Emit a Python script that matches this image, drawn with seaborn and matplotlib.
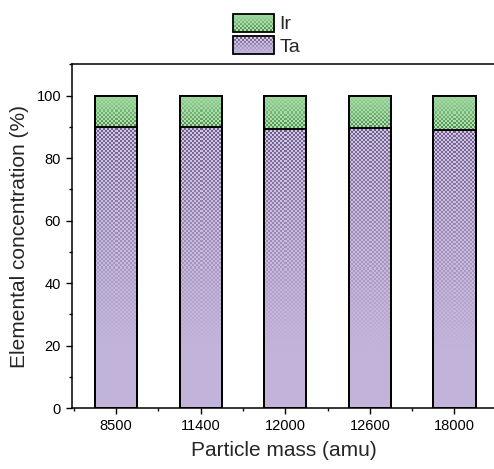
import numpy as np
import pandas as pd
import matplotlib
matplotlib.use("Agg")
import matplotlib.pyplot as plt
from matplotlib.patches import Patch, Rectangle
from matplotlib.ticker import MultipleLocator, FixedLocator
import seaborn as sns

# Composition of each particle size class (%)
masses = ["8500", "11400", "12000", "12600", "18000"]
ta_pct = [90.0, 90.0, 89.4, 89.6, 89.1]
ir_pct = [10.0, 10.0, 10.6, 10.4, 10.9]

TA_COLOR = "#c2b3da"
IR_COLOR = "#9dd89d"
TA_DARK = np.array([0.30, 0.22, 0.42])
IR_DARK = np.array([0.16, 0.42, 0.16])

sns.set_theme(style="ticks")
plt.rcParams["font.family"] = ["Liberation Sans", "DejaVu Sans"]

df = pd.DataFrame({"mass": masses, "Ta": ta_pct, "Ir": ir_pct})
df["total"] = df["Ta"] + df["Ir"]

fig = plt.figure(figsize=(4.94, 4.69), dpi=100)
ax = fig.add_axes([0.146, 0.130, 0.856, 0.733])

EDGE_LW = 1.3
sns.barplot(data=df, x="mass", y="total", color=IR_COLOR, saturation=1,
            width=0.5, errorbar=None, edgecolor="black", linewidth=EDGE_LW, ax=ax)
sns.barplot(data=df, x="mass", y="Ta", color=TA_COLOR, saturation=1,
            width=0.5, errorbar=None, edgecolor="black", linewidth=EDGE_LW, ax=ax)

ax.set_ylim(0, 110)
ax.set_xlim(-0.52, 4.48)
ax.yaxis.set_major_locator(MultipleLocator(20))
ax.yaxis.set_minor_locator(MultipleLocator(10))
ax.xaxis.set_minor_locator(FixedLocator(np.arange(-0.5, 5, 1.0)))
ax.tick_params(axis="both", which="major", direction="out", length=4.5,
               width=1.0, labelsize=10.5, color="black", labelcolor="black")
ax.tick_params(axis="both", which="minor", direction="out", length=2.5,
               width=1.0, color="black")
ax.tick_params(top=False, right=False)
for sp in ax.spines.values():
    sp.set_linewidth(1.1)
    sp.set_color("black")

ax.set_xlabel("Particle mass (amu)", fontsize=15, labelpad=6)
ax.set_ylabel("Elemental concentration (%)", fontsize=15, labelpad=5)

legend_handles = [Patch(facecolor=IR_COLOR, edgecolor="black", linewidth=EDGE_LW, label="Ir"),
                  Patch(facecolor=TA_COLOR, edgecolor="black", linewidth=EDGE_LW, label="Ta")]
leg = fig.legend(handles=legend_handles, loc="upper center",
                 bbox_to_anchor=(0.54, 1.0), frameon=False, fontsize=14,
                 handlelength=2.1, handleheight=1.05, labelspacing=0.14,
                 handletextpad=0.3, borderpad=0.2)
leg.set_zorder(4)


def texture(h, w, dark, fade_from_top, reach):
    """Dotted overlay whose strength fades away from the Ta/Ir boundary."""
    i, j = np.mgrid[0:h, 0:w]
    cell = ((i // 2) + (j // 2)) % 2
    d = i if fade_from_top else (h - 1 - i)
    fade = np.clip(1.0 - d / max(reach * h, 1), 0, 1) ** 1.2
    rgba = np.zeros((h, w, 4))
    rgba[..., :3] = np.where(cell[..., None] == 1, dark, np.array([1.0, 1.0, 1.0]))
    rgba[..., 3] = np.where(cell == 1, 0.7, 0.25) * fade
    return rgba


fig.canvas.draw()
n = len(masses)
patches = list(ax.patches)
total_bars, ta_bars = patches[:n], patches[n:2 * n]

for tot, ta in zip(total_bars, ta_bars):
    x0, w = ta.get_x(), ta.get_width()
    # Ta part: pattern strongest at its top edge
    ta_top = ta.get_y() + ta.get_height()
    bb = ta.get_window_extent()
    img = texture(int(round(bb.height)), int(round(bb.width)), TA_DARK, True, 0.8)
    im = ax.imshow(img, extent=(x0, x0 + w, ta.get_y(), ta_top), aspect="auto",
                   interpolation="nearest", zorder=2, origin="upper")
    im.set_clip_path(ta)
    # Ir part: pattern strongest at its bottom edge
    tot_top = tot.get_y() + tot.get_height()
    bb_ir = ax.transData.transform([[x0, ta_top], [x0 + w, tot_top]])
    h_ir = int(round(abs(bb_ir[1, 1] - bb_ir[0, 1])))
    w_ir = int(round(abs(bb_ir[1, 0] - bb_ir[0, 0])))
    img = texture(h_ir, w_ir, IR_DARK, False, 1.0)
    im = ax.imshow(img, extent=(x0, x0 + w, ta_top, tot_top), aspect="auto",
                   interpolation="nearest", zorder=2, origin="upper")
    im.set_clip_path(tot)
    # outlines on top of the overlays
    for p in (tot, ta):
        ax.add_patch(Rectangle((p.get_x(), p.get_y()), p.get_width(), p.get_height(),
                               fill=False, edgecolor="black", linewidth=EDGE_LW, zorder=3))

ax.set_xlim(-0.52, 4.48)
ax.set_ylim(0, 110)

# legend swatches get the same texture
for hp, dark, from_top in zip(leg.get_patches(), [IR_DARK, TA_DARK], [False, True]):
    bb = hp.get_window_extent()
    h, w = int(round(bb.height)) - 2, int(round(bb.width)) - 2
    base = np.array(matplotlib.colors.to_rgb(hp.get_facecolor()))
    tex = texture(h, w, dark, from_top, 1.0)
    a = tex[..., 3:4]
    rgb = tex[..., :3] * a + base * (1 - a)
    arr = np.concatenate([rgb, np.ones((h, w, 1))], axis=2)
    fig.figimage(arr, xo=int(round(bb.x0)) + 1, yo=int(round(bb.y0)) + 1,
                 origin="upper", zorder=10)

fig.savefig("out.png", dpi=100)
